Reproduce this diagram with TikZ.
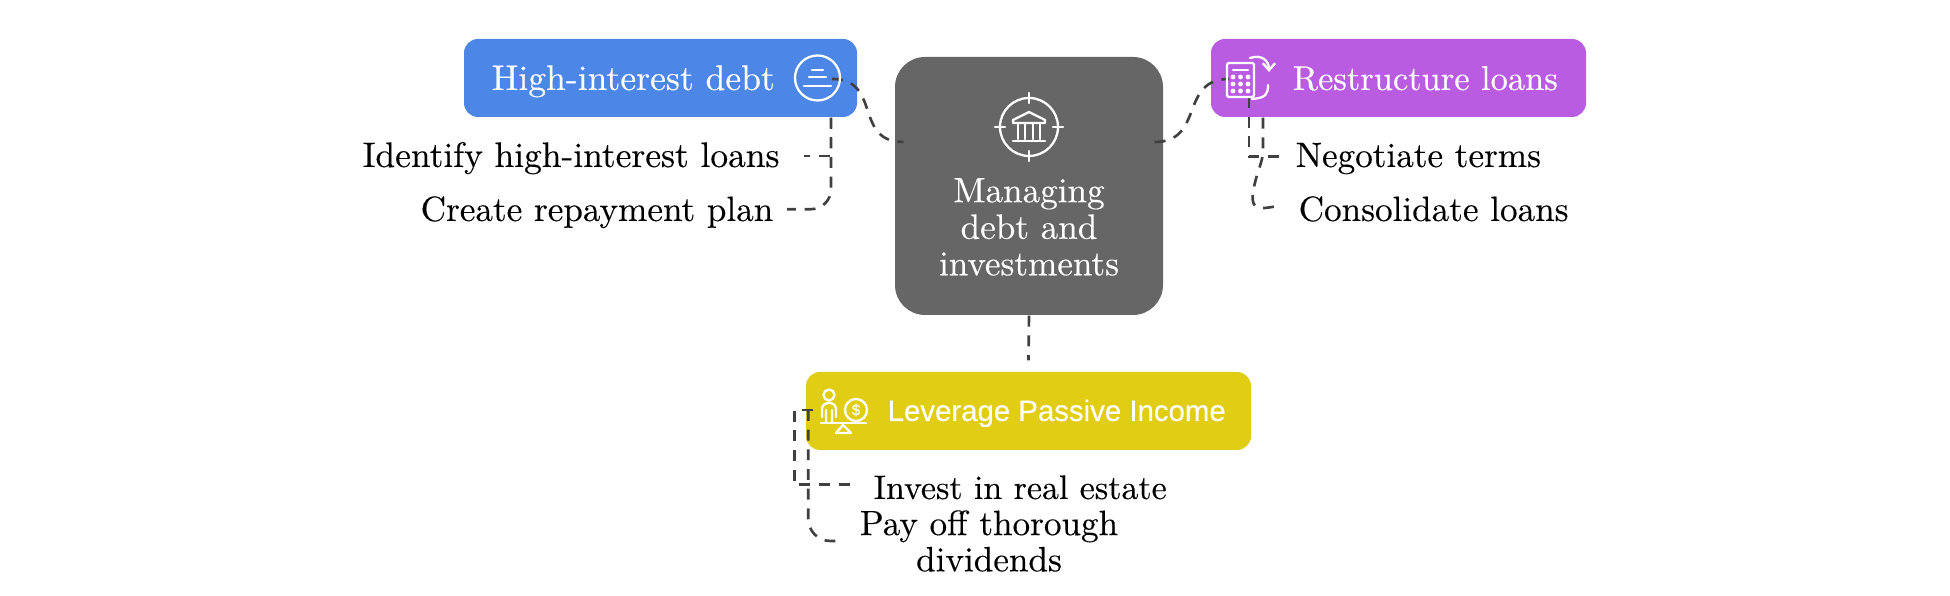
\documentclass[tikz,border=0pt]{standalone}
\usepackage{fontspec}
\usepackage{tikz}
\usetikzlibrary{arrows.meta,calc}
\setmainfont{Latin Modern Roman}[FakeBold=.25]
\newfontfamily\boxsans{Liberation Sans}[FakeBold=.25]
\definecolor{HubGray}{RGB}{102,102,102}
\definecolor{DebtBlue}{RGB}{76,134,230}
\definecolor{LoanPurple}{RGB}{185,92,226}
\definecolor{IncomeYellow}{RGB}{224,205,20}
\definecolor{LinkGray}{RGB}{64,64,64}
\tikzset{
  topicbox/.style={rounded corners=.14cm,minimum height=.78cm,inner sep=0},
  topictext/.style={text=white,inner sep=0,font=\fontsize{10}{10.4}\selectfont},
  leaftext/.style={text=black,inner sep=0,font=\fontsize{10}{10.3}\selectfont},
  link/.style={draw=LinkGray,line width=.75pt,dash pattern=on 3.1pt off 2.5pt},
  glyph/.style={draw=white,line width=.65pt,line cap=round,line join=round}
}
\begin{document}
\begin{tikzpicture}
  \useasboundingbox (0,0) rectangle (19.5,5.96);
  \node[fill=HubGray,rounded corners=.3cm,minimum width=2.68cm,minimum height=2.58cm,inner sep=0] (hub) at (10.29,4.10){};
  \node[topicbox,fill=DebtBlue,minimum width=3.93cm] (high) at (6.605,5.18){};
  \node[topicbox,fill=LoanPurple,minimum width=3.75cm] (restructure) at (13.985,5.18){};
  \node[topicbox,fill=IncomeYellow,minimum width=4.45cm] (leverage) at (10.285,1.85){};

  \node[topictext,align=center] (hubtext) at (10.29,3.69){Managing\\debt and\\investments};
  \node[topictext,anchor=base west,font=\fontsize{10.13}{10.4}\selectfont] (hightext) at (4.91,5.06){High-interest debt};
  \node[topictext,anchor=base west,font=\fontsize{9.8}{10.4}\selectfont] (restructuretext) at (12.92,5.06){Restructure loans};
  \node[text=white,inner sep=0,anchor=base west,font=\boxsans\fontsize{8.36}{10}\selectfont] (leveragetext) at (8.87,1.75){Leverage Passive Income};

  \node[leaftext,anchor=base west,font=\fontsize{10.08}{10.3}\selectfont] (identify) at (3.62,4.29){Identify high-interest loans};
  \node[leaftext,anchor=base west] (create) at (4.20,3.75){Create repayment plan};
  \node[leaftext,anchor=base west] (negotiate) at (12.95,4.29){Negotiate terms};
  \node[leaftext,anchor=base west] (consolidate) at (12.98,3.75){Consolidate loans};
  \node[leaftext,anchor=base west,font=\fontsize{9.67}{10.3}\selectfont] (invest) at (8.73,.97){Invest in real estate};
  \node[leaftext,align=center] (payoff) at (9.89,.55){Pay off thorough\\dividends};

  \draw[link] ([shift={(1.715,-.01)}]high.center) .. controls +(.5,0) and +(-.5,0) .. ([shift={(.09,.44)}]hub.west);
  \draw[link] ([shift={(-.09,.44)}]hub.east) .. controls +(.5,0) and +(-.5,0) .. ([shift={(-1.695,-.01)}]restructure.center);
  \draw[link] (hub.south) -- ([yshift=.11cm]leverage.north);
  \draw[link] ([xshift=1.705cm]high.south) |- ([shift={(.24,.02)}]identify.east);
  \draw[link,rounded corners=.2cm] ([xshift=1.705cm]high.south) |- ([shift={(.13,.03)}]create.east);
  \draw[link] ([shift={(-1.495,-.19)}]restructure.center) |- ([shift={(-.13,.02)}]negotiate.west);
  \draw[link] ([xshift=-1.355cm]restructure.south) -- ++(0,-.33) .. controls +(0,-.12) and +(.03,.2) .. ++(-.10,-.42) .. controls +(-.03,-.22) and +(-.14,-.01) .. ([shift={(-.18,.03)}]consolidate.west);
  \draw[link] ([shift={(.08,.01)}]leverage.west) -- ++(-.19,0) |- ([shift={(-.2,.03)}]invest.west);
  \draw[link,rounded corners=.22cm] ([shift={(.03,.01)}]leverage.west) |- ([xshift=-.22cm]payoff.west);

  \node[glyph,circle,minimum size=.45cm,inner sep=0] (highicon) at (8.175,5.18){};
  \draw[glyph] ([shift={(-.055,.08)}]highicon.center) -- +(.11,0);
  \draw[glyph] ([shift={(-.085,.01)}]highicon.center) -- +(.17,0);
  \draw[glyph] ([shift={(-.135,-.08)}]highicon.center) -- +(.27,0);

  \node[glyph,circle,minimum size=.58cm,inner sep=0] (hubicon) at (10.29,4.69){};
  \foreach \a in {0,90,180,270}
    \draw[glyph] (hubicon.center) ++(\a:.24) -- ++(\a:.1);
  \draw[glyph] ([shift={(-.16,.04)}]hubicon.center) -- ([shift={(-.16,.07)}]hubicon.center) -- ([shift={(0,.15)}]hubicon.center) -- ([shift={(.16,.07)}]hubicon.center) -- ([shift={(.16,.04)}]hubicon.center) -- cycle;
  \foreach \x in {-.11,-.04,.04,.11}
    \draw[glyph] ([shift={(\x,.03)}]hubicon.center) -- ([shift={(\x,-.12)}]hubicon.center);
  \draw[glyph] ([shift={(-.16,-.14)}]hubicon.center) -- ([shift={(.16,-.14)}]hubicon.center);

  \draw[glyph,rounded corners=.4pt] (12.27,4.99) rectangle (12.54,5.33);
  \draw[glyph] (12.33,5.26) -- (12.48,5.26);
  \foreach \x in {12.33,12.405,12.48}
    \foreach \y in {5.05,5.12,5.19}
      \fill[white] (\x,\y) circle (.024);
  \draw[glyph,-{Straight Barb[length=2pt,width=3.5pt]}] (12.50,5.38) .. controls (12.62,5.42) and (12.69,5.35) .. (12.69,5.24);
  \draw[glyph] (12.68,5.11) .. controls (12.68,5.02) and (12.66,4.98) .. (12.52,4.97);

  \draw[glyph] (8.29,2.01) circle (.055);
  \draw[glyph] (8.22,1.79) -- (8.22,1.87) .. controls (8.22,1.95) and (8.36,1.95) .. (8.36,1.87) -- (8.36,1.79) (8.26,1.73) -- (8.26,1.86) (8.32,1.73) -- (8.32,1.86);
  \draw[glyph] (8.21,1.73) -- (8.66,1.73);
  \draw[glyph] (8.43,1.71) -- (8.36,1.63) -- (8.51,1.63) -- cycle;
  \node[glyph,circle,minimum size=.22cm,inner sep=0] (coin) at (8.56,1.86){};
  \node[inner sep=0,text=white,font=\boxsans\fontsize{4.4}{4.4}\selectfont] (coinsign) at (coin.center){\$};
\end{tikzpicture}
\end{document}
